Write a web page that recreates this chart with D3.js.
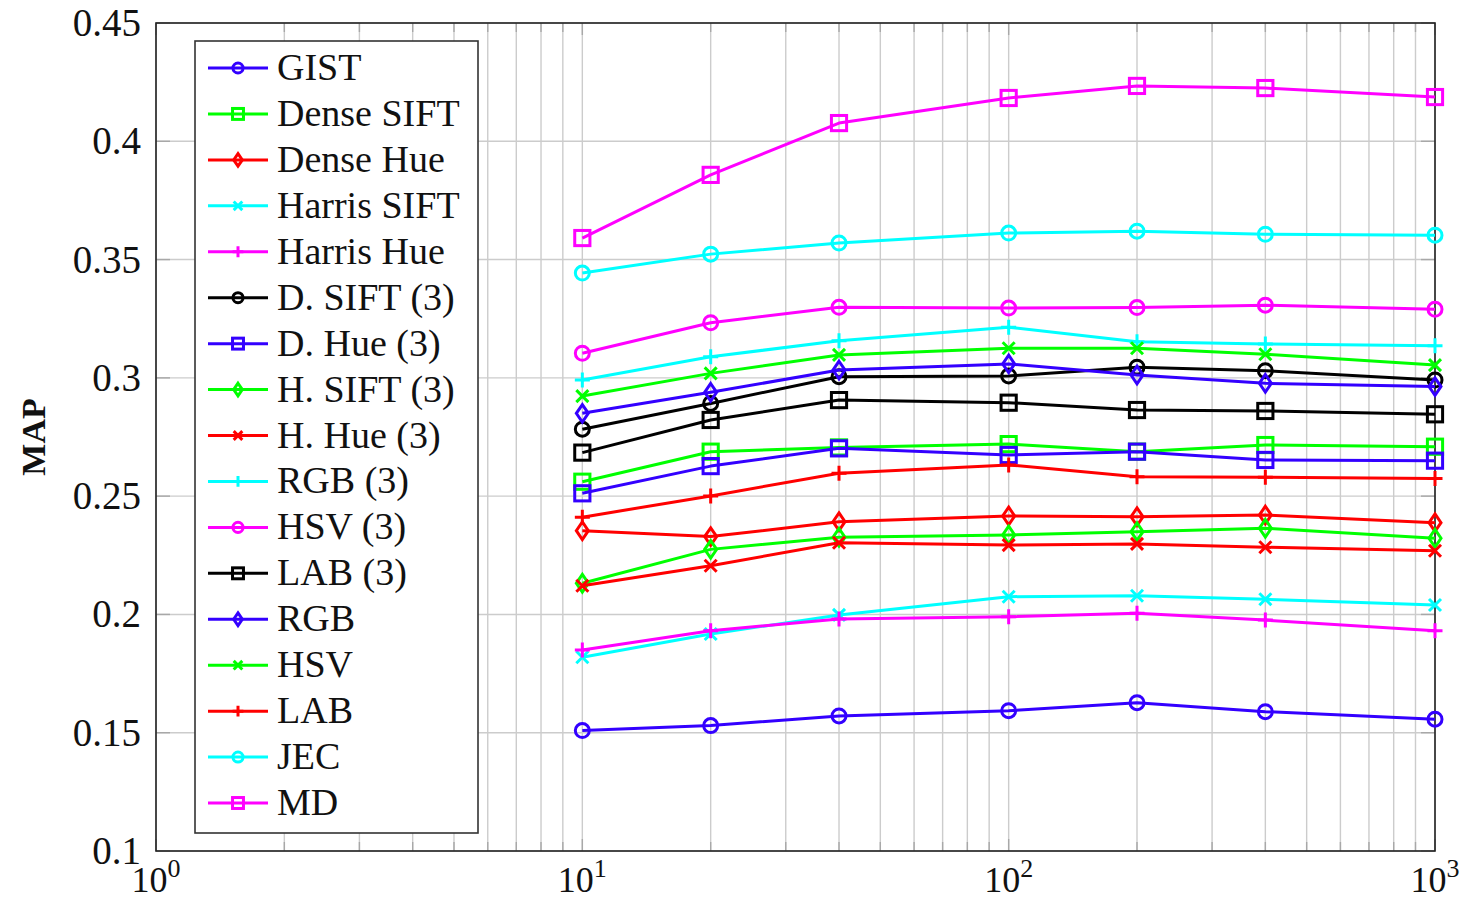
<!DOCTYPE html>
<html>
<head>
<meta charset="utf-8">
<script src="https://cdn.jsdelivr.net/npm/d3@7"></script>
<style>
  html, body { margin: 0; padding: 0; background: #fff; }
  svg { display: block; }
</style>
</head>
<body>
<svg id="chart" width="1481" height="901"></svg>
<script>
// Sample counts on the x axis (log scale)
const xValues = [10, 20, 40, 100, 200, 400, 1000];

// MAP values per method
const gist       = [0.1509, 0.1530, 0.1571, 0.1593, 0.1627, 0.1589, 0.1557];
const denseSift  = [0.2561, 0.2688, 0.2706, 0.2720, 0.2688, 0.2716, 0.2709];
const denseHue   = [0.2354, 0.2329, 0.2392, 0.2416, 0.2413, 0.2420, 0.2388];
const harrisSift = [0.1819, 0.1917, 0.1998, 0.2075, 0.2079, 0.2064, 0.2040];
const harrisHue  = [0.1850, 0.1931, 0.1981, 0.1990, 0.2005, 0.1976, 0.1931];
const dSift3     = [0.2783, 0.2892, 0.3005, 0.3008, 0.3045, 0.3030, 0.2991];
const dHue3      = [0.2512, 0.2627, 0.2702, 0.2674, 0.2688, 0.2653, 0.2650];
const hSift3     = [0.2132, 0.2275, 0.2326, 0.2336, 0.2350, 0.2364, 0.2322];
const hHue3      = [0.2121, 0.2206, 0.2303, 0.2293, 0.2298, 0.2284, 0.2269];
const rgb3       = [0.2991, 0.3089, 0.3157, 0.3214, 0.3153, 0.3143, 0.3136];
const hsv3       = [0.3104, 0.3233, 0.3298, 0.3295, 0.3297, 0.3307, 0.3290];
const lab3       = [0.2684, 0.2822, 0.2906, 0.2895, 0.2864, 0.2860, 0.2846];
const rgb        = [0.2850, 0.2939, 0.3033, 0.3059, 0.3012, 0.2977, 0.2963];
const hsv        = [0.2923, 0.3019, 0.3097, 0.3125, 0.3125, 0.3100, 0.3054];
const lab        = [0.2411, 0.2501, 0.2597, 0.2632, 0.2582, 0.2580, 0.2575];
const jec        = [0.3443, 0.3523, 0.3570, 0.3612, 0.3620, 0.3607, 0.3603];
const md         = [0.3591, 0.3858, 0.4077, 0.4183, 0.4234, 0.4225, 0.4187];

const yTicks = [0.1, 0.15, 0.2, 0.25, 0.3, 0.35, 0.4, 0.45];
const yTickLabels = ["0.1", "0.15", "0.2", "0.25", "0.3", "0.35", "0.4", "0.45"];
const xTickExps = [0, 1, 2, 3];

const BLUE = "#3300ff", GREEN = "#00ff00", RED = "#ff0000",
      CYAN = "#00ffff", MAGENTA = "#ff00ff", BLACK = "#000000";

const series = [
  { name: "GIST",         values: gist,       color: BLUE,    marker: "circle" },
  { name: "Dense SIFT",   values: denseSift,  color: GREEN,   marker: "square" },
  { name: "Dense Hue",    values: denseHue,   color: RED,     marker: "diamond" },
  { name: "Harris SIFT",  values: harrisSift, color: CYAN,    marker: "cross" },
  { name: "Harris Hue",   values: harrisHue,  color: MAGENTA, marker: "plus" },
  { name: "D. SIFT (3)",  values: dSift3,     color: BLACK,   marker: "circle" },
  { name: "D. Hue (3)",   values: dHue3,      color: BLUE,    marker: "square" },
  { name: "H. SIFT (3)",  values: hSift3,     color: GREEN,   marker: "diamond" },
  { name: "H. Hue (3)",   values: hHue3,      color: RED,     marker: "cross" },
  { name: "RGB (3)",      values: rgb3,       color: CYAN,    marker: "plus" },
  { name: "HSV (3)",      values: hsv3,       color: MAGENTA, marker: "circle" },
  { name: "LAB (3)",      values: lab3,       color: BLACK,   marker: "square" },
  { name: "RGB",          values: rgb,        color: BLUE,    marker: "diamond" },
  { name: "HSV",          values: hsv,        color: GREEN,   marker: "cross" },
  { name: "LAB",          values: lab,        color: RED,     marker: "plus" },
  { name: "JEC",          values: jec,        color: CYAN,    marker: "circle" },
  { name: "MD",           values: md,         color: MAGENTA, marker: "square" }
];

const FONT = "'Liberation Serif', 'Times New Roman', serif";
const margin = { left: 156, right: 46, top: 23, bottom: 50 };
const W = 1481, H = 901;
const SW = 3;

const svg = d3.select("#chart");

const x = d3.scaleLog().domain([1, 1000]).range([margin.left, W - margin.right]);
const y = d3.scaleLinear().domain([0.1, 0.45]).range([H - margin.bottom, margin.top]);

const [x0, x1] = x.range();
const [y0, y1] = y.range();

// minor + major positions on the log axis
const logTicks = [];
for (let e = 0; e < 3; e++) {
  for (let m = 1; m < 10; m++) logTicks.push(m * Math.pow(10, e));
}
logTicks.push(1000);

// grid
const grid = svg.append("g").attr("stroke", "#cccccc").attr("stroke-width", 1.4);
grid.selectAll("line.v").data(logTicks).join("line")
  .attr("class", "v")
  .attr("x1", d => x(d)).attr("x2", d => x(d))
  .attr("y1", y1).attr("y2", y0);
grid.selectAll("line.h").data(yTicks).join("line")
  .attr("class", "h")
  .attr("x1", x0).attr("x2", x1)
  .attr("y1", d => y(d)).attr("y2", d => y(d));

// inside ticks on all four sides
const ticks = svg.append("g").attr("stroke", "#a8a8a8").attr("stroke-width", 1.4);
logTicks.forEach(d => {
  const major = Math.abs(Math.log10(d) - Math.round(Math.log10(d))) < 1e-9;
  const len = major ? 12 : 9;
  ticks.append("line").attr("x1", x(d)).attr("x2", x(d)).attr("y1", y0).attr("y2", y0 - len);
  ticks.append("line").attr("x1", x(d)).attr("x2", x(d)).attr("y1", y1).attr("y2", y1 + len);
});
yTicks.forEach(d => {
  ticks.append("line").attr("x1", x0).attr("x2", x0 + 14).attr("y1", y(d)).attr("y2", y(d));
  ticks.append("line").attr("x1", x1).attr("x2", x1 - 14).attr("y1", y(d)).attr("y2", y(d));
});

// frame
svg.append("rect")
  .attr("x", x0).attr("y", y1)
  .attr("width", x1 - x0).attr("height", y0 - y1)
  .attr("fill", "none").attr("stroke", "#222").attr("stroke-width", 1.6);

// y tick labels
svg.append("g").selectAll("text").data(yTicks).join("text")
  .attr("x", x0 - 15)
  .attr("y", d => y(d) + 13)
  .attr("text-anchor", "end")
  .style("font", `39px ${FONT}`)
  .attr("fill", "#111")
  .text((d, i) => yTickLabels[i]);

// x tick labels as powers of ten
const xl = svg.append("g").selectAll("text").data(xTickExps).join("text")
  .attr("x", d => x(Math.pow(10, d)))
  .attr("y", y0 + 41)
  .attr("text-anchor", "middle")
  .style("font", `36px ${FONT}`)
  .attr("fill", "#111");
xl.append("tspan").text("10");
xl.append("tspan").attr("dy", -15).style("font-size", "26px").text(d => d);

// y axis title
svg.append("text")
  .attr("transform", `translate(45,${(y0 + y1) / 2}) rotate(-90)`)
  .attr("text-anchor", "middle")
  .style("font", `bold 34px ${FONT}`)
  .attr("fill", "#111")
  .text("MAP");

function drawMarker(g, type, color, s) {
  if (type === "circle") {
    g.append("circle").attr("r", 7 * s).attr("fill", "none").attr("stroke", color).attr("stroke-width", SW);
  } else if (type === "square") {
    const h = 7.6 * s;
    g.append("rect").attr("x", -h).attr("y", -h).attr("width", 2 * h).attr("height", 2 * h)
      .attr("fill", "none").attr("stroke", color).attr("stroke-width", SW);
  } else if (type === "diamond") {
    const w = 6 * s, h = 8.8 * s;
    g.append("path").attr("d", `M0,${-h}L${w},0L0,${h}L${-w},0Z`)
      .attr("fill", "none").attr("stroke", color).attr("stroke-width", SW);
  } else if (type === "cross") {
    const h = 6 * s;
    g.append("path").attr("d", `M${-h},${-h}L${h},${h}M${-h},${h}L${h},${-h}`)
      .attr("stroke", color).attr("stroke-width", SW);
  } else if (type === "plus") {
    const h = 7.5 * s;
    g.append("path").attr("d", `M${-h},0L${h},0M0,${-h}L0,${h}`)
      .attr("stroke", color).attr("stroke-width", SW);
  }
}

// series lines + markers
const line = d3.line().x(d => x(d[0])).y(d => y(d[1]));
const plot = svg.append("g");
series.forEach(s => {
  const pts = xValues.map((xv, i) => [xv, s.values[i]]);
  plot.append("path").datum(pts)
    .attr("d", line)
    .attr("fill", "none")
    .attr("stroke", s.color)
    .attr("stroke-width", SW)
    .attr("stroke-linejoin", "round");
  pts.forEach(p => {
    const g = plot.append("g").attr("transform", `translate(${x(p[0])},${y(p[1])})`);
    drawMarker(g, s.marker, s.color, 1);
  });
});

// legend
const legend = svg.append("g");
legend.append("rect")
  .attr("x", 195).attr("y", 41).attr("width", 283).attr("height", 792)
  .attr("fill", "#fff").attr("stroke", "#333").attr("stroke-width", 1.6);
const rowY = d3.scaleLinear().domain([0, series.length - 1]).range([68, 803]);
series.forEach((s, i) => {
  const g = legend.append("g").attr("transform", `translate(0,${rowY(i)})`);
  g.append("line").attr("x1", 208).attr("x2", 268).attr("y1", 0).attr("y2", 0)
    .attr("stroke", s.color).attr("stroke-width", SW);
  const m = g.append("g").attr("transform", "translate(238,0)");
  drawMarker(m, s.marker, s.color, 0.72);
  g.append("text")
    .attr("x", 277).attr("y", 12)
    .style("font", `38px ${FONT}`)
    .attr("fill", "#111")
    .text(s.name);
});
</script>
</body>
</html>
